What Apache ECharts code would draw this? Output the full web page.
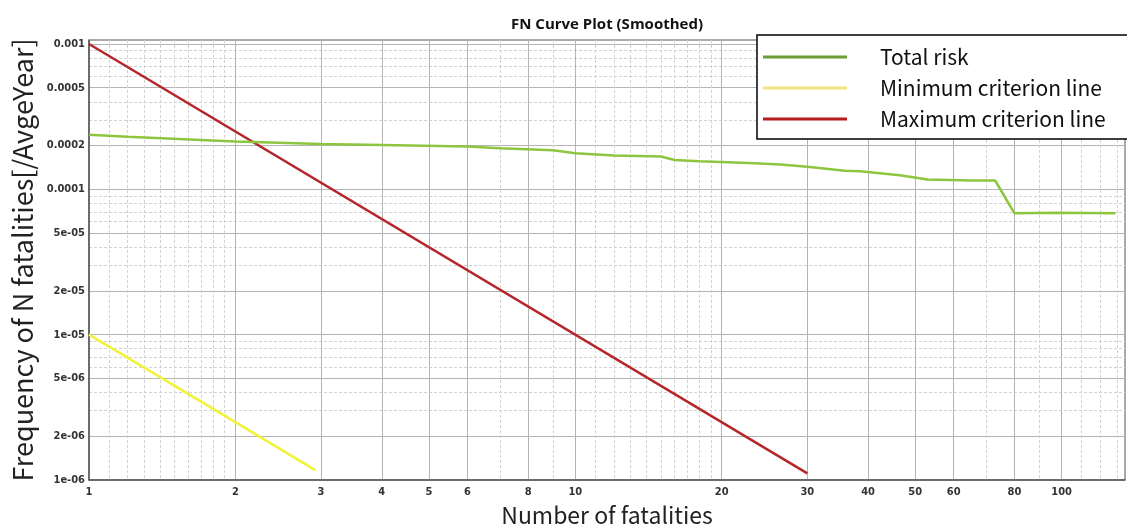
<!DOCTYPE html>
<html>
<head>
<meta charset="utf-8">
<script src="https://cdn.jsdelivr.net/npm/echarts@6/dist/echarts.min.js"></script>
<style>
html,body{margin:0;padding:0;background:#fff;}
#chart{width:1127px;height:530px;}
</style>
</head>
<body>
<div id="chart"></div>
<script>
// ---- data ----
const totalRiskN = [1, 1.2, 2, 3, 4, 6, 7, 9, 10, 12, 15, 16, 18, 22.7, 26.4, 30, 35.8, 38.5, 46.5, 53, 65, 73, 80, 97, 129];
const totalRiskF = [2.37e-4, 2.30e-4, 2.13e-4, 2.05e-4, 2.02e-4, 1.97e-4, 1.92e-4, 1.86e-4, 1.77e-4, 1.71e-4, 1.68e-4, 1.59e-4, 1.56e-4, 1.52e-4, 1.48e-4, 1.43e-4, 1.34e-4, 1.33e-4, 1.25e-4, 1.17e-4, 1.15e-4, 1.15e-4, 6.84e-5, 6.9e-5, 6.84e-5];
const minCritN = [1, 2, 2.92];
const minCritF = [1e-5, 2.5e-6, 1.17e-6];
const maxCritN = [1, 30];
const maxCritF = [1e-3, 1.11e-6];

const seriesNames = ['Total risk', 'Minimum criterion line', 'Maximum criterion line'];

const xTickValues = [1, 2, 3, 4, 5, 6, 8, 10, 20, 30, 40, 50, 60, 80, 100];
const xTickLabels = ['1', '2', '3', '4', '5', '6', '8', '10', '20', '30', '40', '50', '60', '80', '100'];
const xMinorValues = [1.1, 1.2, 1.3, 1.4, 1.5, 1.6, 1.7, 1.8, 1.9, 7, 9, 11, 12, 13, 14, 15, 16, 17, 18, 19, 70, 90, 110, 120, 130];
const yTickValues = [1e-6, 2e-6, 5e-6, 1e-5, 2e-5, 5e-5, 1e-4, 2e-4, 5e-4, 1e-3];
const yTickLabels = ['1e-06', '2e-06', '5e-06', '1e-05', '2e-05', '5e-05', '0.0001', '0.0002', '0.0005', '0.001'];
const yMinorValues = [3e-6, 4e-6, 6e-6, 7e-6, 8e-6, 9e-6, 3e-5, 4e-5, 6e-5, 7e-5, 8e-5, 9e-5, 3e-4, 4e-4, 6e-4, 7e-4, 8e-4, 9e-4];

const xRange = [1, 135];
const yRange = [1e-6, 1.065e-3];

// ---- helpers (log10 transform for a log-log plot) ----
const L = v => Math.log10(v);
const pairs = (xs, ys) => xs.map((x, i) => [L(x), L(ys[i])]);
const labelFor = (vals, labels) => v => {
  for (let i = 0; i < vals.length; i++) if (Math.abs(L(vals[i]) - v) < 1e-6) return labels[i];
  return '';
};

const tickFont = {fontFamily: 'Liberation Sans Narrow, DejaVu Sans Condensed, Arial Narrow, sans-serif', fontWeight: 'bold', fontSize: 11, color: '#333'};
const nameFont = {fontFamily: 'Noto Sans CJK KR, Noto Sans, sans-serif', fontSize: 27, color: '#222'};

const chart = echarts.init(document.getElementById('chart'), null, {renderer: 'canvas'});
chart.setOption({
  backgroundColor: '#fff',
  animation: false,
  title: {
    text: 'FN Curve Plot (Smoothed)',
    left: 506, top: 12,
    textStyle: {fontFamily: 'Open Sans, Noto Sans, sans-serif', fontWeight: 'bold', fontSize: 15, color: '#111'}
  },
  legend: {
    orient: 'vertical',
    left: 757, top: 35,
    padding: [10, 90, 8, 6],
    itemGap: 7,
    itemWidth: 84, itemHeight: 3,
    icon: 'rect',
    backgroundColor: '#fff',
    borderColor: '#000', borderWidth: 1.5,
    textStyle: {fontFamily: 'Noto Sans CJK KR, Noto Sans, sans-serif', fontSize: 21, color: '#111', lineHeight: 24, padding: [0, 0, 0, 28]},
    data: [
      {name: seriesNames[0], itemStyle: {color: '#6a9e35'}},
      {name: seriesNames[1], itemStyle: {color: '#f3e37d'}},
      {name: seriesNames[2], itemStyle: {color: '#b81c1c'}}
    ]
  },
  grid: {left: 89, right: 2, top: 40, bottom: 50, show: true, borderColor: '#555', borderWidth: 1, backgroundColor: '#fff', outerBoundsMode: 'none', containLabel: false},
  xAxis: [{
    type: 'value', min: L(xRange[0]) - 1e-9, max: L(xRange[1]),
    name: 'Number of fatalities', nameLocation: 'middle', nameGap: 24,
    nameTextStyle: Object.assign({}, nameFont, {fontSize: 23}),
    axisLine: {show: true, onZero: false, lineStyle: {color: '#555', width: 1.5}},
    axisTick: {show: false, customValues: xTickValues.map(L)},
    axisLabel: Object.assign({customValues: xTickValues.map(L), formatter: labelFor(xTickValues, xTickLabels), margin: 7, showMinLabel: true, showMaxLabel: true, hideOverlap: false}, tickFont),
    splitLine: {show: true, lineStyle: {color: '#b4b4b4', width: 1}}
  }, {
    type: 'value', min: L(xRange[0]) - 1e-9, max: L(xRange[1]), position: 'bottom',
    axisLine: {show: false}, axisLabel: {show: false},
    axisTick: {show: false, customValues: xMinorValues.map(L)},
    splitLine: {show: true, lineStyle: {color: '#d2d2d2', width: 1, type: [3, 2]}}
  }],
  yAxis: [{
    type: 'value', min: L(yRange[0]) - 1e-9, max: L(yRange[1]),
    name: 'Frequency of N fatalities[/AvgeYear]', nameLocation: 'middle', nameGap: 47,
    nameTextStyle: nameFont,
    axisLine: {show: true, onZero: false, lineStyle: {color: '#555', width: 1.5}},
    axisTick: {show: false, customValues: yTickValues.map(L)},
    axisLabel: Object.assign({customValues: yTickValues.map(L), formatter: labelFor(yTickValues, yTickLabels), margin: 4, showMinLabel: true, showMaxLabel: true, hideOverlap: false}, tickFont),
    splitLine: {show: true, lineStyle: {color: '#b4b4b4', width: 1}}
  }, {
    type: 'value', min: L(yRange[0]) - 1e-9, max: L(yRange[1]), position: 'left',
    axisLine: {show: false}, axisLabel: {show: false},
    axisTick: {show: false, customValues: yMinorValues.map(L)},
    splitLine: {show: true, lineStyle: {color: '#d2d2d2', width: 1, type: [3, 2]}}
  }],
  series: [
    {name: seriesNames[0], type: 'line', xAxisIndex: 0, yAxisIndex: 0, symbol: 'none', smooth: false,
     lineStyle: {color: '#8cc63e', width: 2.5}, itemStyle: {color: '#8cc63e'}, data: pairs(totalRiskN, totalRiskF), z: 5},
    {name: seriesNames[1], type: 'line', xAxisIndex: 0, yAxisIndex: 0, symbol: 'none',
     lineStyle: {color: '#f2f23a', width: 2.5}, itemStyle: {color: '#f2f23a'}, data: pairs(minCritN, minCritF), z: 4},
    {name: seriesNames[2], type: 'line', xAxisIndex: 0, yAxisIndex: 0, symbol: 'none',
     lineStyle: {color: '#b5262b', width: 2.5}, itemStyle: {color: '#b5262b'}, data: pairs(maxCritN, maxCritF), z: 4}
  ]
});
</script>
</body>
</html>
